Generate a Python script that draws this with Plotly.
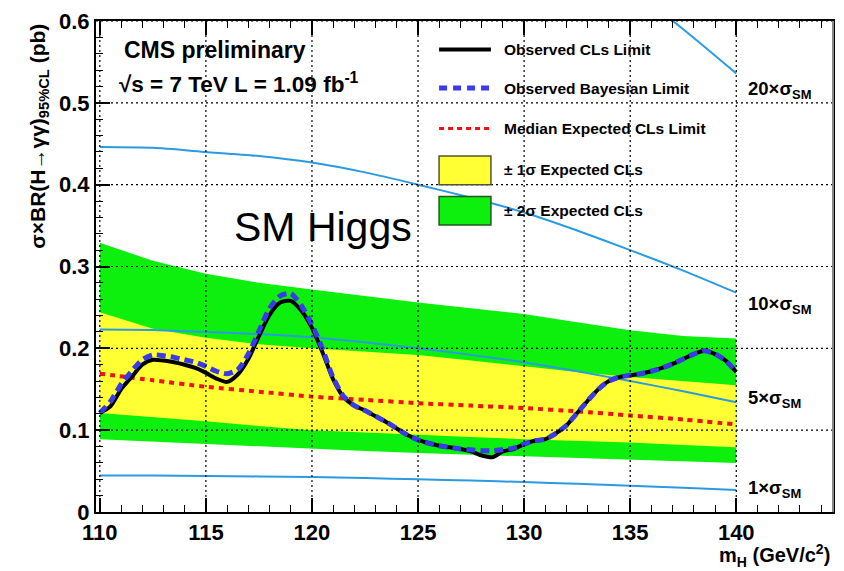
import plotly.graph_objects as go

# ---------------- data ----------------
# Higgs mass grid for expected bands and SM reference (GeV/c^2)
mass_grid = [110, 112.5, 115, 117.5, 120, 122.5, 125, 127.5, 130, 132.5, 135, 137.5, 140]

# SM sigma x BR(H->gg) (pb)
sm_xsec = [0.0446, 0.0445, 0.0440, 0.0435, 0.0427, 0.0415, 0.0400, 0.0384, 0.0366, 0.0344, 0.0320, 0.0295, 0.0268]
sm_multiples = [1, 5, 10, 20]

# expected CLs limit and bands (pb)
exp_median = [0.169, 0.161, 0.153, 0.147, 0.141, 0.137, 0.133, 0.130, 0.127, 0.123, 0.118, 0.113, 0.107]
exp_1s_hi = [0.244, 0.224, 0.213, 0.205, 0.200, 0.196, 0.192, 0.185, 0.178, 0.171, 0.165, 0.160, 0.155]
exp_1s_lo = [0.121, 0.116, 0.111, 0.105, 0.100, 0.097, 0.094, 0.0915, 0.089, 0.087, 0.085, 0.082, 0.079]
exp_2s_hi = [0.329, 0.307, 0.291, 0.280, 0.272, 0.264, 0.256, 0.249, 0.242, 0.232, 0.222, 0.215, 0.212]
exp_2s_lo = [0.089, 0.086, 0.083, 0.080, 0.077, 0.0745, 0.072, 0.070, 0.068, 0.066, 0.064, 0.062, 0.060]

# observed limits on a 0.5 GeV grid (pb)
mass_obs = [110 + 0.5 * i for i in range(61)]
obs_cls = [0.121, 0.129, 0.150, 0.165, 0.180, 0.186, 0.185, 0.183, 0.180, 0.176,
           0.170, 0.163, 0.159, 0.168, 0.187, 0.215, 0.241, 0.256, 0.258, 0.246,
           0.225, 0.195, 0.162, 0.140, 0.130, 0.124, 0.117, 0.110, 0.102, 0.094,
           0.088, 0.084, 0.081, 0.079, 0.077, 0.074, 0.069, 0.067, 0.074, 0.077,
           0.083, 0.087, 0.089, 0.096, 0.106, 0.121, 0.136, 0.150, 0.160, 0.165,
           0.167, 0.169, 0.172, 0.176, 0.181, 0.187, 0.193, 0.197, 0.193, 0.185,
           0.171]
obs_bayes = [0.121, 0.135, 0.156, 0.172, 0.186, 0.192, 0.191, 0.189, 0.186, 0.183,
             0.178, 0.172, 0.169, 0.174, 0.193, 0.221, 0.249, 0.264, 0.267, 0.252,
             0.229, 0.199, 0.164, 0.141, 0.130, 0.124, 0.117, 0.110, 0.102, 0.094,
             0.088, 0.084, 0.081, 0.079, 0.077, 0.076, 0.075, 0.075, 0.076, 0.078,
             0.083, 0.087, 0.089, 0.096, 0.106, 0.121, 0.136, 0.150, 0.160, 0.165,
             0.167, 0.169, 0.172, 0.176, 0.181, 0.187, 0.193, 0.197, 0.193, 0.185,
             0.171]

x_ticks = [110, 115, 120, 125, 130, 135, 140]
y_ticks = [0.1, 0.2, 0.3, 0.4, 0.5, 0.6]

legend_labels = ["Observed CLs Limit", "Observed Bayesian Limit", "Median Expected CLs Limit",
                 "± 1σ Expected CLs", "± 2σ Expected CLs"]

# ---------------- styling ----------------
W, H = 844, 571
ML, MR, MT, MB = 96, 9, 14, 59
PW, PH = W - ML - MR, H - MT - MB
FONT = "Liberation Sans"
GREEN = "#0df00d"
YELLOW = "#ffff33"
SMBLUE = "#2a9be0"


def fx(p):
    return (p - ML) / PW


def fy(p):
    return (H - MB - p) / PH


fig = go.Figure()

# +-2 sigma band
fig.add_trace(go.Scatter(x=mass_grid, y=exp_2s_lo, mode="lines", line=dict(width=0, color=GREEN),
                         showlegend=False, hoverinfo="skip"))
fig.add_trace(go.Scatter(x=mass_grid, y=exp_2s_hi, mode="lines", line=dict(width=0, color=GREEN),
                         fill="tonexty", fillcolor=GREEN, showlegend=False))
# +-1 sigma band
fig.add_trace(go.Scatter(x=mass_grid, y=exp_1s_lo, mode="lines", line=dict(width=0, color=YELLOW),
                         showlegend=False, hoverinfo="skip"))
fig.add_trace(go.Scatter(x=mass_grid, y=exp_1s_hi, mode="lines", line=dict(width=0, color=YELLOW),
                         fill="tonexty", fillcolor=YELLOW, showlegend=False))

# SM multiples
for k in sm_multiples:
    fig.add_trace(go.Scatter(x=mass_grid, y=[k * v for v in sm_xsec], mode="lines",
                             line=dict(color=SMBLUE, width=2, shape="spline", smoothing=0.6),
                             showlegend=False))

# median expected
fig.add_trace(go.Scatter(x=mass_grid, y=exp_median, mode="lines",
                         line=dict(color="#ee1111", width=4, dash="5px,5px", shape="spline", smoothing=0.6),
                         showlegend=False))
# observed CLs
fig.add_trace(go.Scatter(x=mass_obs, y=obs_cls, mode="lines",
                         line=dict(color="black", width=4, shape="spline", smoothing=0.7),
                         showlegend=False))
# observed Bayesian
fig.add_trace(go.Scatter(x=mass_obs, y=obs_bayes, mode="lines",
                         line=dict(color="#3a3ae8", width=5, dash="9px,5px", shape="spline", smoothing=0.7),
                         showlegend=False))

shapes = []
# dotted grid drawn over the bands
for xv in x_ticks:
    shapes.append(dict(type="line", xref="x", yref="paper", x0=xv, x1=xv, y0=0, y1=1,
                       line=dict(color="black", width=1.2, dash="2px,3px"), layer="above"))
for yv in y_ticks:
    shapes.append(dict(type="line", xref="paper", yref="y", x0=0, x1=1, y0=yv, y1=yv,
                       line=dict(color="black", width=1.2, dash="2px,3px"), layer="above"))
# right frame edge
shapes.append(dict(type="line", xref="paper", yref="paper", x0=1, x1=1, y0=0, y1=1,
                   line=dict(color="#888888", width=2), layer="above"))

# legend samples
lx0, lx1 = fx(440), fx(492)
shapes.append(dict(type="line", xref="paper", yref="paper", x0=lx0, x1=lx1, y0=fy(43), y1=fy(43),
                   line=dict(color="black", width=4)))
shapes.append(dict(type="line", xref="paper", yref="paper", x0=lx0, x1=lx1, y0=fy(82), y1=fy(82),
                   line=dict(color="#3a3ae8", width=5, dash="8px,6px")))
shapes.append(dict(type="line", xref="paper", yref="paper", x0=lx0, x1=lx1, y0=fy(123), y1=fy(123),
                   line=dict(color="#ee1111", width=3, dash="5px,4px")))
shapes.append(dict(type="rect", xref="paper", yref="paper", x0=lx0, x1=lx1, y0=fy(180), y1=fy(151),
                   fillcolor=YELLOW, line=dict(color="#555533", width=1.5)))
shapes.append(dict(type="rect", xref="paper", yref="paper", x0=lx0, x1=lx1, y0=fy(221), y1=fy(192),
                   fillcolor=GREEN, line=dict(color="#225522", width=1.5)))

annotations = []
for lab, yc in zip(legend_labels, [43, 82, 123, 165, 206]):
    annotations.append(dict(xref="paper", yref="paper", x=fx(503), y=fy(yc), xanchor="left", yanchor="middle",
                            text=lab, showarrow=False, font=dict(family=FONT, size=15.5, color="black", weight="bold")))

# SM multiple labels
for k, yc in zip(sm_multiples, [489, 397, 302, 84]):
    annotations.append(dict(xref="paper", yref="paper", x=fx(748), y=fy(yc), xanchor="left", yanchor="middle",
                            text=f"{k}×σ<sub>SM</sub>", showarrow=False,
                            font=dict(family=FONT, size=18.5, color="black", weight="bold")))

annotations.append(dict(xref="paper", yref="paper", x=fx(122), y=fy(43), xanchor="left", yanchor="middle",
                        text="CMS preliminary", showarrow=False,
                        font=dict(family=FONT, size=23, color="black", weight="bold")))
annotations.append(dict(xref="paper", yref="paper", x=fx(117), y=fy(77), xanchor="left", yanchor="middle",
                        text="√s = 7 TeV L = 1.09 fb<sup>-1</sup>", showarrow=False,
                        font=dict(family=FONT, size=22.5, color="black", weight="bold")))
annotations.append(dict(xref="paper", yref="paper", x=fx(232), y=fy(223), xanchor="left", yanchor="middle",
                        text="SM Higgs", showarrow=False,
                        font=dict(family=FONT, size=41, color="black")))
# axis titles
annotations.append(dict(xref="paper", yref="paper", x=fx(834), y=fy(556), xanchor="right", yanchor="middle",
                        text="m<sub>H</sub> (GeV/c<sup>2</sup>)", showarrow=False,
                        font=dict(family=FONT, size=20, color="black", weight="bold")))
annotations.append(dict(xref="paper", yref="paper", x=fx(39), y=fy(15), xanchor="center", yanchor="top",
                        textangle=-90,
                        text="σ×BR(H→γγ)<sub>95%CL</sub> (pb)", showarrow=False,
                        font=dict(family=FONT, size=21, color="black", weight="bold")))

fig.update_layout(
    width=W, height=H,
    margin=dict(l=ML, r=MR, t=MT, b=MB, pad=0),
    paper_bgcolor="white", plot_bgcolor="white",
    shapes=shapes, annotations=annotations,
    showlegend=False,
)
fig.update_xaxes(
    range=[109.82, 144.56], tickvals=x_ticks, ticks="inside", ticklen=14, tickwidth=1.5, tickcolor="black",
    minor=dict(dtick=1, tick0=110, ticks="inside", ticklen=7, tickcolor="black", tickwidth=1.2),
    showgrid=False, zeroline=False, showline=True, linecolor="black", linewidth=2, mirror="ticks",
    tickfont=dict(family=FONT, size=22, color="black", weight="bold"),
)
fig.update_yaxes(
    range=[0, 0.6], tickvals=[0] + y_ticks, ticktext=["0", "0.1", "0.2", "0.3", "0.4", "0.5", "0.6"],
    ticks="inside", ticklen=14, tickwidth=1.5, tickcolor="black",
    minor=dict(dtick=0.02, tick0=0, ticks="inside", ticklen=7, tickcolor="black", tickwidth=1.2),
    showgrid=False, zeroline=False, showline=True, linecolor="black", linewidth=2, mirror=True,
    tickfont=dict(family=FONT, size=22, color="black", weight="bold"),
)

fig.write_html("out.html")
